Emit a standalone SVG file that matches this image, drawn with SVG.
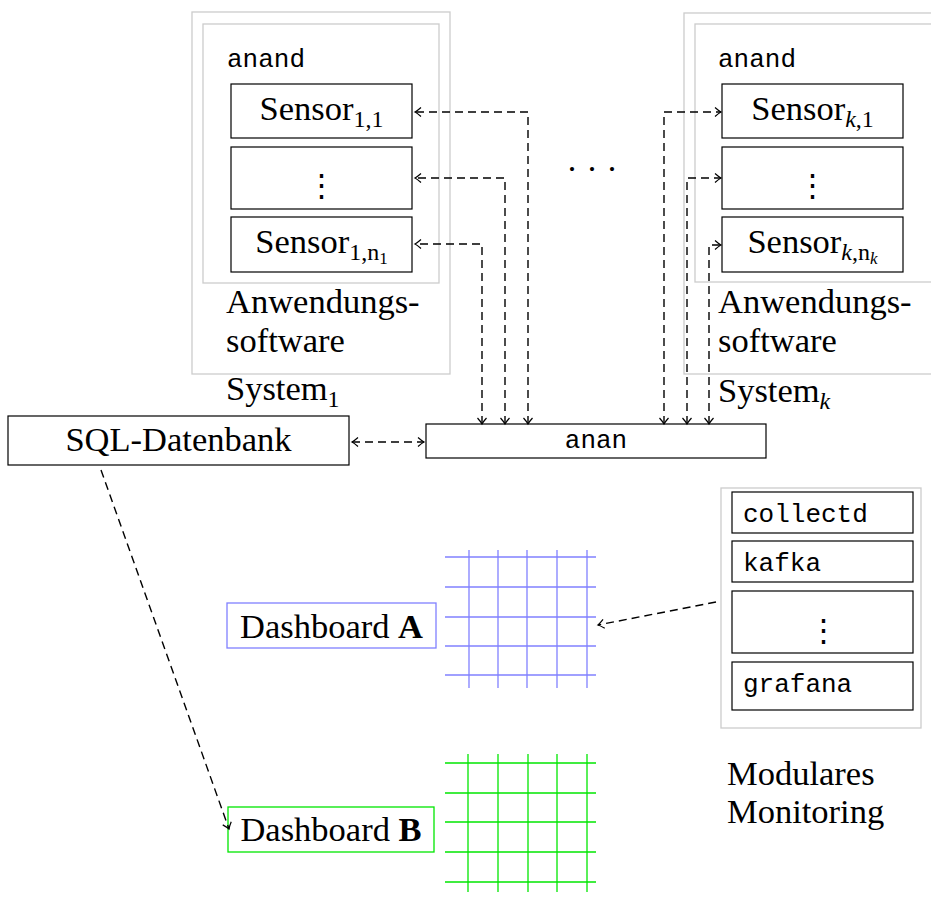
<svg xmlns="http://www.w3.org/2000/svg" width="931" height="905" viewBox="0 0 931 905">
<style>
.serif{font-family:"Liberation Serif","Times New Roman",serif;font-size:34.5px;fill:#000}
.mono{font-family:"Liberation Mono","Courier New",monospace;font-size:26px;fill:#000}
.vdots{font-family:"Liberation Serif","DejaVu Serif",serif;font-size:31px;fill:#000}
.gray{fill:none;stroke:#cccccc;stroke-width:1.3}
.box{fill:#fff;stroke:#000;stroke-width:1.2}
.dash{fill:none;stroke:#000;stroke-width:1.4;stroke-dasharray:8 5}
.blue{stroke:#8080ff;stroke-width:1.3}
.green{stroke:#00e600;stroke-width:1.3}
</style>
<defs>
<marker id="arr" markerUnits="userSpaceOnUse" markerWidth="14" markerHeight="14" viewBox="-8 -7 10 14" refX="0" refY="0" orient="auto-start-reverse" overflow="visible">
<path d="M-6,-4.5 Q-2,-1 0,0 Q-2,1 -6,4.5" fill="none" stroke="#000" stroke-width="1.2" stroke-dasharray="none"/>
</marker>
</defs>
<rect width="931" height="905" fill="#fff"/>

<g id="system1">
<rect class="gray" x="192" y="12" width="258" height="362"/>
<rect class="gray" x="203" y="24" width="236" height="259"/>
<text class="mono" x="227" y="67">anand</text>
<g id="sensor11"><rect class="box" x="231" y="84" width="181" height="54"/>
<text class="serif" x="321.5" y="120" text-anchor="middle">Sensor<tspan font-size="24" dy="7">1,1</tspan></text></g>
<g id="sensor1dots"><rect class="box" x="231" y="147" width="181" height="62"/>
<text class="vdots" x="321.5" y="196" text-anchor="middle">⋮</text></g>
<g id="sensor1n"><rect class="box" x="231" y="217" width="181" height="55"/>
<text class="serif" x="321.5" y="253" text-anchor="middle">Sensor<tspan font-size="24" dy="7">1,n</tspan><tspan font-size="17" dy="4">1</tspan></text></g>
<text class="serif" x="226" y="313">Anwendungs-</text>
<text class="serif" x="226" y="352">software</text>
<text class="serif" x="226" y="400">System<tspan font-size="24" dy="7">1</tspan></text>
</g>

<g id="systemk">
<rect class="gray" x="684" y="13" width="258" height="361"/>
<rect class="gray" x="695" y="24" width="240" height="258"/>
<text class="mono" x="718" y="67">anand</text>
<g id="sensork1"><rect class="box" x="722" y="84" width="181" height="54"/>
<text class="serif" x="812.5" y="120" text-anchor="middle">Sensor<tspan font-size="24" dy="7" font-style="italic">k</tspan><tspan font-size="24">,1</tspan></text></g>
<g id="sensorkdots"><rect class="box" x="722" y="147" width="181" height="62"/>
<text class="vdots" x="812.5" y="196" text-anchor="middle">⋮</text></g>
<g id="sensorkn"><rect class="box" x="722" y="217" width="181" height="55"/>
<text class="serif" x="812.5" y="253" text-anchor="middle">Sensor<tspan font-size="24" dy="7" font-style="italic">k</tspan><tspan font-size="24">,n</tspan><tspan font-size="17" dy="4" font-style="italic">k</tspan></text></g>
<text class="serif" x="718" y="313">Anwendungs-</text>
<text class="serif" x="718" y="352">software</text>
<text class="serif" x="718" y="402">System<tspan font-size="24" dy="7" font-style="italic">k</tspan></text>
</g>

<text id="hdots" class="serif" x="592" y="180" text-anchor="middle" font-size="28">· · ·</text>

<g id="sql">
<rect class="box" x="8" y="416" width="341" height="49"/>
<text class="serif" x="178.5" y="451" text-anchor="middle">SQL-Datenbank</text>
</g>

<g id="anan">
<rect class="box" x="426" y="424" width="340" height="34"/>
<text class="mono" x="596" y="448" text-anchor="middle">anan</text>
</g>

<g id="dashA">
<g id="gridA" class="blue">
<line x1="445" y1="557" x2="596" y2="557"/><line x1="445" y1="587" x2="596" y2="587"/><line x1="445" y1="617" x2="596" y2="617"/><line x1="445" y1="646" x2="596" y2="646"/><line x1="445" y1="675" x2="596" y2="675"/>
<line x1="469" y1="550" x2="469" y2="688"/><line x1="498" y1="550" x2="498" y2="688"/><line x1="527" y1="550" x2="527" y2="688"/><line x1="557" y1="550" x2="557" y2="688"/><line x1="587" y1="550" x2="587" y2="688"/>
</g>
<rect x="227" y="603" width="209" height="45" fill="#fff" stroke="#8080ff" stroke-width="1.3"/>
<text class="serif" x="331.5" y="638" text-anchor="middle">Dashboard <tspan font-weight="bold">A</tspan></text>
</g>

<g id="dashB">
<g id="gridB" class="green">
<line x1="445" y1="763" x2="596" y2="763"/><line x1="445" y1="793" x2="596" y2="793"/><line x1="445" y1="822" x2="596" y2="822"/><line x1="445" y1="852" x2="596" y2="852"/><line x1="445" y1="882" x2="596" y2="882"/>
<line x1="468" y1="754" x2="468" y2="892"/><line x1="498" y1="754" x2="498" y2="892"/><line x1="528" y1="754" x2="528" y2="892"/><line x1="557" y1="754" x2="557" y2="892"/><line x1="587" y1="754" x2="587" y2="892"/>
</g>
<rect x="228" y="807" width="206" height="45" fill="#fff" stroke="#00e600" stroke-width="1.3"/>
<text class="serif" x="331" y="841" text-anchor="middle">Dashboard <tspan font-weight="bold">B</tspan></text>
</g>

<g id="monitoring">
<rect class="gray" x="721" y="488" width="200" height="240"/>
<g id="collectd"><rect class="box" x="732" y="492" width="181" height="41"/><text class="mono" x="743" y="522">collectd</text></g>
<g id="kafka"><rect class="box" x="732" y="541" width="181" height="41"/><text class="mono" x="743" y="571">kafka</text></g>
<g id="moddots"><rect class="box" x="732" y="591" width="181" height="62"/><text class="vdots" x="823" y="641" text-anchor="middle">⋮</text></g>
<g id="grafana"><rect class="box" x="732" y="662" width="181" height="48"/><text class="mono" x="743" y="692">grafana</text></g>
<text class="serif" x="727" y="785">Modulares</text>
<text class="serif" x="727" y="823">Monitoring</text>
</g>

<g id="connectors">
<path class="dash" d="M528,424 V112 H415" marker-start="url(#arr)" marker-end="url(#arr)"/>
<path class="dash" d="M505,424 V178 H415" marker-start="url(#arr)" marker-end="url(#arr)"/>
<path class="dash" d="M482,424 V244 H415" marker-start="url(#arr)" marker-end="url(#arr)"/>
<path class="dash" d="M664,424 V112 H721" marker-start="url(#arr)" marker-end="url(#arr)"/>
<path class="dash" d="M687,424 V178 H721" marker-start="url(#arr)" marker-end="url(#arr)"/>
<path class="dash" d="M709,424 V245 H721" marker-start="url(#arr)" marker-end="url(#arr)"/>
<path class="dash" d="M352,442 H424" marker-start="url(#arr)" marker-end="url(#arr)"/>
<path class="dash" d="M716,602 L598,625" marker-end="url(#arr)"/>
<path class="dash" d="M101,470 L229,829" marker-end="url(#arr)"/>
</g>
</svg>
